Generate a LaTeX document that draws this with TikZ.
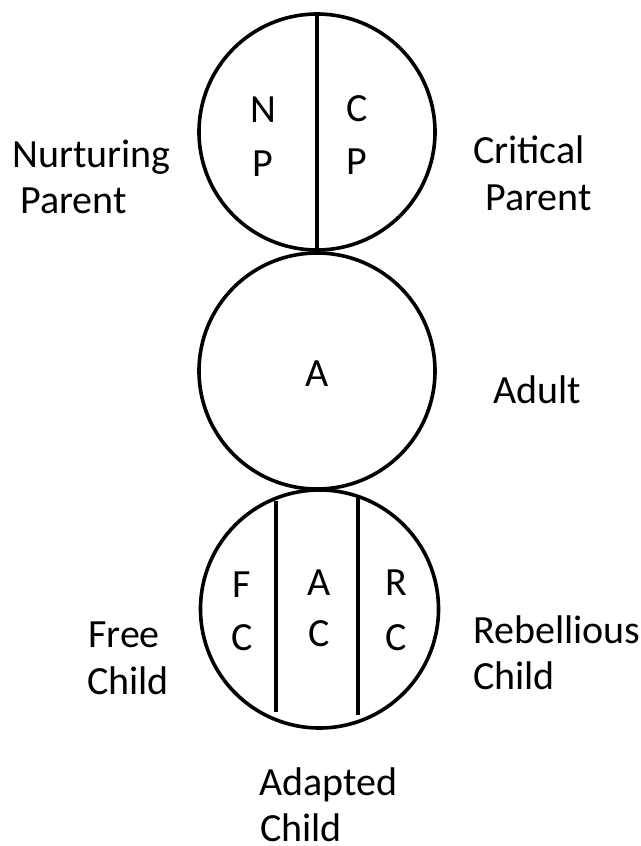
\documentclass[tikz,border=0pt]{standalone}
\usepackage{fontspec}
\setmainfont{Carlito}
\begin{document}
\begin{tikzpicture}[x=1pt,y=-1pt,
  ring/.style={circle,draw,line width=3.6pt,minimum size=236pt,inner sep=0pt,outer sep=0pt},
  divider/.style={line width=3.6pt},
  lbl/.style={anchor=base west,inner sep=0pt,font=\fontsize{40}{48}\selectfont},
  ltr/.style={anchor=base,inner sep=0pt,font=\fontsize{40}{48}\selectfont}]
\useasboundingbox[fill=white] (0,0) rectangle (640,846);
% circles
\node[ring] (top) at (317,132) {};
\node[ring] (mid) at (317,371) {};
\node[ring,minimum size=238pt] (bot) at (319.5,609) {};
% dividers
\draw[divider] (top.north) -- (top.south);
\coordinate (d1t) at (276,501);
\coordinate (d1b) at (276,712);
\coordinate (d2t) at (358,498);
\coordinate (d2b) at (358,715);
\draw[divider] (d1t) -- (d1b);
\draw[divider] (d2t) -- (d2b);
% letters in circles
\node[ltr] (n1) at (263,122) {N};
\node[ltr] (p1) at (263,176) {P};
\node[ltr] (c1) at (357,121) {C};
\node[ltr] (p2) at (357,174) {P};
\node[ltr] (a1) at (317,386) {A};
\node[ltr] (f3) at (242,597) {F};
\node[ltr] (c3) at (242,650) {C};
\node[ltr] (a3) at (319,595) {A};
\node[ltr] (c4) at (319,646) {C};
\node[ltr] (r3) at (396,595) {R};
\node[ltr] (c5) at (396,650) {C};
% side labels
\node[lbl] (nur) at (12,167) {Nurturing};
\node[lbl] (npar) at (20,213) {Parent};
\node[lbl] (cri) at (473,163) {Critical};
\node[lbl] (cpar) at (485,210) {Parent};
\node[lbl] (adu) at (493,403) {Adult};
\node[lbl] (fre) at (88,647) {Free};
\node[lbl] (fch) at (87,694) {Child};
\node[lbl] (reb) at (473,643) {Rebellious};
\node[lbl] (rch) at (473,689) {Child};
\node[lbl] (ada) at (259,795) {Adapted};
\node[lbl] (ach) at (260,841) {Child};
\end{tikzpicture}
\end{document}
